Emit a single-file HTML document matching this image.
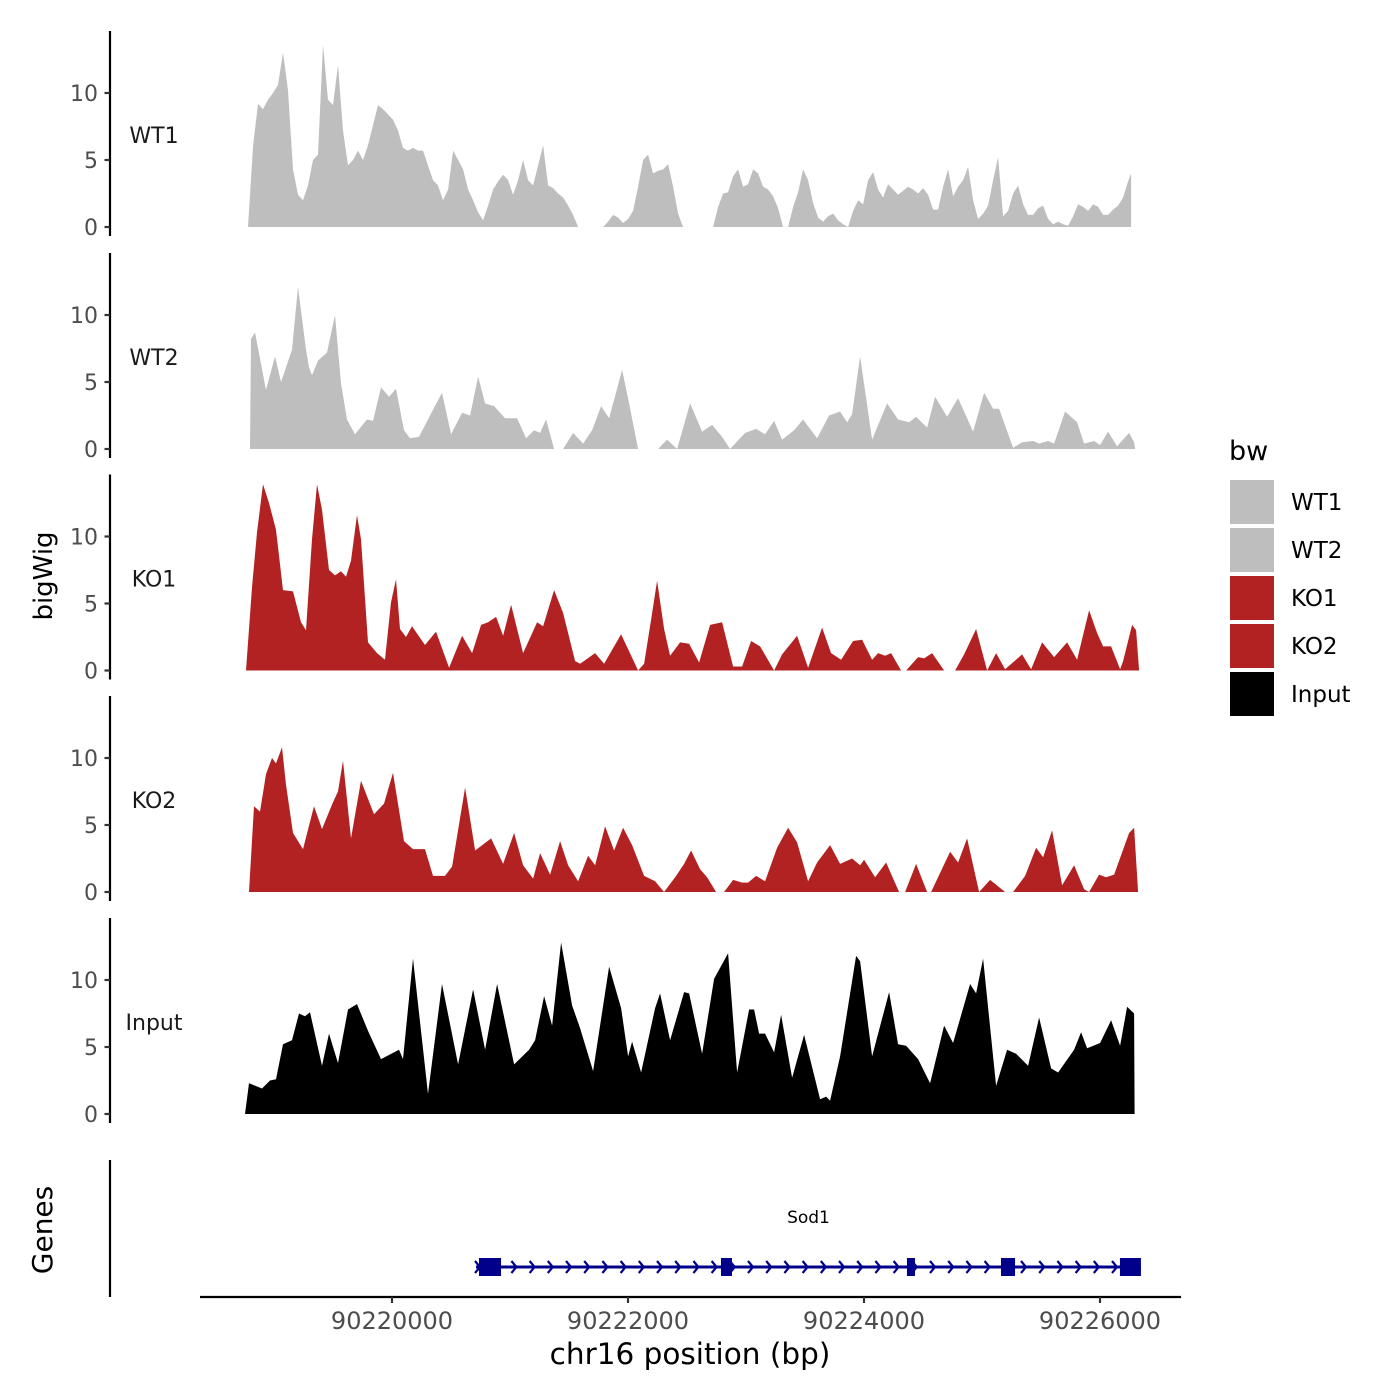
<!DOCTYPE html>
<html><head><meta charset="utf-8"><style>
html,body{margin:0;padding:0;background:#fff;}
svg{display:block;font-family:"DejaVu Sans","Liberation Sans",sans-serif;}
</style></head><body>
<svg id="chart" width="1400" height="1400" viewBox="0 0 1400 1400" xmlns="http://www.w3.org/2000/svg">
<rect x="0" y="0" width="1400" height="1400" fill="#fff"/>
<g id="tracks"></g>
<g id="genes"></g>
<g id="legend"></g>
<text x="0" y="0" transform="translate(52,576) rotate(-90)" text-anchor="middle" font-size="26" fill="#000">bigWig</text>
<text x="0" y="0" transform="translate(52,1230) rotate(-90)" text-anchor="middle" font-size="28" fill="#000">Genes</text>
<text x="690" y="1364" text-anchor="middle" font-size="29.5" fill="#000">chr16 position (bp)</text>
</svg>
<script>
// ---- data ----
const binStartBp = 90218780;
const binSizeBp = 8.475;
const trackNames = ["WT1","WT2","KO1","KO2","Input"];
const trackColors = ["#bebebe","#bebebe","#b22222","#b22222","#000000"];
const yTicks = [0,5,10];
const xTicks = [90220000,90222000,90224000,90226000];

const posWT1 = [0,5,10,15,20,25,30,35,40,45,50,55,60,65,70,75,80,85,90,95,100,105,110,115,120,125,130,135,140,145,150,155,160,165,170,175,180,185,190,195,200,205,210,215,220,225,230,235,240,245,250,255,260,265,270,275,280,285,290,295,300,305,310,315,320,325,330,
340,
355,360,365,370,375,380,385,390,395,400,405,410,415,420,425,430,435,
450,
465,470,475,480,485,490,495,500,505,510,515,520,525,530,535,
540,545,550,555,560,565,570,575,580,585,590,595,600,
605,610,615,620,625,630,635,640,645,650,655,660,665,670,675,680,685,690,695,700,705,710,715,720,725,730,735,740,745,750,755,760,765,770,775,780,785,790,795,800,805,810,815,820,825,830,835,840,845,850,855,860,865,870,875,880,883];
const valWT1 = [0,6,9.2,8.8,9.5,10,10.6,13,10.2,4.3,2.4,2,3.1,5,5.4,13.6,9.5,9.1,12.1,7.2,4.6,5,5.7,5,6.1,7.6,9.1,8.8,8.4,8,7.2,5.9,5.7,5.9,5.7,5.7,4.6,3.5,3.1,2,2.8,5.7,5,4.3,2.8,2,1.1,0.5,1.6,2.8,3.4,3.9,3.5,2.4,3.5,5,3.5,3.1,4.6,6.1,3.1,2.9,2.5,2.2,1.6,0.9,0,
null,
0,0.4,0.9,0.7,0.3,0.6,1.2,3,5,5.4,4,4.2,4.3,4.7,3,1,0,
null,
0,1.5,2.5,2.6,3.8,4.3,3,3.2,4.3,4,3,2.8,2.3,1.4,0,
0,1.5,2.6,4.3,3.5,1.8,0.7,0.4,0.8,1,0.5,0.2,0,
1.2,2,1.7,3.5,4.1,2.8,2.2,3.2,2.8,2.4,2.7,3,2.8,2.5,2.9,2.4,1.3,1.3,3,4.3,2.3,3.0,3.5,4.5,2,0.6,1.0,1.6,3.5,5.2,0.8,1.2,2.5,3.1,1.7,0.9,0.9,1.4,1.6,0.6,0.2,0.4,0.2,0.1,0.8,1.7,1.5,1.2,1.7,1.5,0.9,0.9,1.3,1.6,2.2,3.4,4];

const posWT2 = [2,3,7,18,27,33,44,50,58,61,64,70,79,87,93,99,107,119,125,133,141,148,156,162,171,182,194,203,214,222,230,237,246,257,269,278,286,292,298,306,
306.5,
315,325,335,344,353,361,374,381,390,
395,
410,419,429,442,454,464,474,482,497,508,517,526,534,546,555,569,581,592,599,604,612,624,639,650,661,668,679,687,699,710,725,736,745,751,765,774,785,791,800,806,817,829,836,846,852,860,869,881,886,887];
const valWT2 = [0,8.2,8.7,4.4,6.9,5,7.4,12.1,7.4,6.1,5.5,6.6,7.2,10,4.9,2.2,1.1,2.2,2.1,4.6,3.9,4.5,1.4,0.8,0.9,2.5,4.2,1.1,2.7,2.5,5.4,3.4,3.2,2.3,2.3,0.8,1.4,1.2,2.2,0,
null,
0,1.2,0.4,1.4,3.2,2.3,5.9,3.4,0,
null,
0,0.7,0,3.4,1.3,1.8,0.9,0,1.2,1.5,1.1,2.1,0.7,1.4,2.2,0.8,2.5,2.8,2.0,2.6,6.9,0.7,3.4,2.2,2,2.4,1.6,3.9,2.4,3.8,1.3,4.2,3.0,3.0,0.1,0.5,0.6,0.4,0.6,0.4,2.8,2.0,0.4,0.6,0.3,1.3,0.2,1.2,0.5,0];

const posKO1 = [-2,4,9,15,21,28,35,45,53,58,64,69,74,81,87,93,98,103,109,113,120,129,137,143,148,152,158,164,177,188,201,214,224,233,240,248,255,263,275,289,295,306,315,327,332,347,356,373,390,396,403,409,416,422,432,441,451,462,474,485,494,503,512,526,534,549,560,574,583,593,605,614,624,630,637,643,653,658,670,676,684,696,
700,
707,716,728,739,748,757,774,783,794,806,819,829,841,849,855,863,872,875,884,888,891];
const valKO1 = [0,6.2,10.3,13.9,12.5,10.5,6,5.9,3.6,3,9.8,13.9,12,7.5,7.1,7.4,7.0,8.2,11.6,9.8,2.1,1.3,0.8,5.1,6.8,3.1,2.5,3.3,1.9,2.9,0.2,2.6,1.3,3.4,3.6,4,2.6,4.9,1.3,3.6,3.3,6,4.3,0.7,0.5,1.3,0.5,2.7,0,0.5,3.8,6.7,3.1,1.1,2.1,2,0.6,3.4,3.6,0.3,0.3,2.2,1.8,0,1.2,2.6,0.2,3.2,1.3,0.8,2.2,2.3,0.8,1.3,1.1,1.3,0,0,1,0.9,1.3,0,
null,
0,1.2,3.1,0,1.3,0.1,1.2,0.1,2.1,1,2.1,0.8,4.5,2.8,1.8,1.8,0.1,0.7,3.4,3.0,0];

const posKO2 = [1,6,12,18,24,28,34,38,45,55,66,74,85,90,95,103,113,126,136,145,156,165,177,185,197,204,217,227,243,255,266,275,285,292,302,312,320,330,340,347,357,366,375,384,396,407,416,428,436,443,452,459,468,476,485,494,500,508,517,529,540,549,560,569,582,592,604,612,616,627,638,651,657,668,679,683,702,710,719,731,742,757,765,777,788,795,804,814,826,836,841,851,858,866,881,886,890];
const valKO2 = [0,6.4,6.0,8.8,10,9.6,10.8,8,4.4,3.2,6.4,4.7,6.7,7.5,9.8,4,8.3,5.8,6.6,8.9,3.8,3.2,3.2,1.2,1.2,1.9,7.8,3.1,4,2.1,4.4,2,1,2.9,1.3,3.8,2,0.8,2.7,2.0,4.9,3.1,4.8,3.5,1.2,0.8,0,1.2,2.1,3.1,1.7,1.1,0,0,0.9,0.7,0.7,1.2,0.8,3.3,4.8,3.7,0.8,2.2,3.5,2.1,2.5,2.0,2.4,1.1,2.2,0,0,2.1,0,0,3.0,2.2,4.0,0,0.9,0,0,1.2,3.3,2.6,4.6,0.5,2.0,0.2,0,1.3,1.1,1.3,4.4,4.8,0];

const posInput = [-3,1,14,22,28,35,44,51,57,62,74,81,90,100,109,120,133,151,155,165,180,194,210,225,237,249,266,281,287,296,304,313,324,332,345,361,373,380,384,393,407,412,422,436,441,454,466,480,489,501,506,511,517,526,533,544,556,572,578,582,592,608,612,624,641,650,658,670,682,696,705,722,728,735,748,759,768,780,791,803,810,826,833,839,852,863,872,879,886,886.5];
const valInput = [0,2.3,1.9,2.5,2.6,5.2,5.5,7.5,7.3,7.6,3.6,6,3.8,7.8,8.2,6.2,4.1,4.8,4.1,11.6,1.5,9.7,3.7,9.3,4.8,9.7,3.7,4.8,5.5,8.8,6.6,12.8,8.1,6.4,3.2,11,7.9,4.3,5.4,3.1,7.9,9,5.5,9.1,9.0,4.5,10.1,12,3.1,7.8,7.8,6,6,4.6,7.4,2.7,5.9,1.1,1.3,1.0,4.3,11.8,11.4,4.3,9.1,5.2,5.1,4.1,2.3,6.6,5.3,9.7,9.0,11.6,2.1,4.8,4.5,3.6,7.2,3.4,3.1,4.8,6.1,4.9,5.3,7.0,5.1,8.0,7.5,0];

const geneStartBp = 90220712;
const geneEndBp = 90226347;
const exonStartBp = [90220737,90222788,90224364,90225161,90226169];
const exonEndBp = [90220924,90222881,90224432,90225280,90226347];
const geneLabel = "Sod1";
const legendLabels = ["WT1","WT2","KO1","KO2","Input"];
const legendColors = ["#bebebe","#bebebe","#b22222","#b22222","#000000"];

// ---- scales ----
const NS = "http://www.w3.org/2000/svg";
const xOfBp = bp => 392 + (bp - 90220000) * (236 / 2000);
const xOfBin = b => xOfBp(binStartBp + b * binSizeBp);
const trackBase = [227, 449, 670.5, 892, 1114];
const pxPerUnit = 13.4;
function mk(tag, attrs, parent){const e=document.createElementNS(NS,tag);for(const k in attrs)e.setAttribute(k,attrs[k]);parent.appendChild(e);return e;}

const tracksG = document.getElementById('tracks');
const allPos = [posWT1,posWT2,posKO1,posKO2,posInput];
const allVal = [valWT1,valWT2,valKO1,valKO2,valInput];
trackNames.forEach((name, t) => {
  const y0 = trackBase[t];
  const yOf = v => y0 - v * pxPerUnit;
  const g = mk('g', {}, tracksG);
  
  
  const P = allPos[t], V = allVal[t];
  let seg = [];
  const flush = () => {
    if (seg.length > 1) {
      let d = 'M' + xOfBin(seg[0][0]).toFixed(1) + ',' + y0;
      seg.forEach(p => { d += 'L' + xOfBin(p[0]).toFixed(1) + ',' + yOf(p[1]).toFixed(1); });
      d += 'L' + xOfBin(seg[seg.length-1][0]).toFixed(1) + ',' + y0 + 'Z';
      const a = mk('path', {d: d, fill: trackColors[t]}, g);
      
      
    }
    seg = [];
  };
  for (let i = 0; i < Math.min(P.length, V.length); i++) {
    if (V[i] === null) flush(); else seg.push([P[i], V[i]]);
  }
  flush();
  const ax = mk('line', {x1:110, x2:110, y1:y0-196, y2:y0+9, stroke:'#000', 'stroke-width':2.2}, g);
  
  
  yTicks.forEach(v => {
    const tk = mk('line', {x1:104.5, x2:110, y1:yOf(v), y2:yOf(v), stroke:'#333', 'stroke-width':2.2}, g);
    
    
    const lb = mk('text', {x:98, y:yOf(v)+8, 'text-anchor':'end', 'font-size':22, fill:'#4d4d4d'}, g);
    lb.textContent = v;
    
    
  });
  const tl = mk('text', {x:154, y:y0-84, 'text-anchor':'middle', 'font-size':22, fill:'#1a1a1a'}, g);
  tl.textContent = name;
  
  
});

// ---- gene track ----
const gg = document.getElementById('genes');
const ga = mk('line', {x1:110, x2:110, y1:1160, y2:1297, stroke:'#000', 'stroke-width':2.2}, gg);


const xa = mk('line', {x1:200, x2:1181, y1:1297, y2:1297, stroke:'#000', 'stroke-width':2.2}, gg);


xTicks.forEach(v => {
  const tk = mk('line', {x1:xOfBp(v), x2:xOfBp(v), y1:1297, y2:1303, stroke:'#333', 'stroke-width':2.2}, gg);
  
  
  const lb = mk('text', {x:xOfBp(v), y:1329, 'text-anchor':'middle', 'font-size':24, fill:'#4d4d4d'}, gg);
  lb.textContent = v;
  
  
});
const gx1 = xOfBp(geneStartBp), gx2 = xOfBp(geneEndBp);
const gl = mk('line', {x1:gx1, x2:gx2, y1:1267, y2:1267, stroke:'#00008b', 'stroke-width':3}, gg);


let chev = '';
for (let x = gx1 + 2; x < gx2 - 4; x += 18.2) chev += 'M' + (x-3).toFixed(1) + ',1261L' + (x+2).toFixed(1) + ',1267L' + (x-3).toFixed(1) + ',1273';
const ch = mk('path', {d: chev, stroke:'#00008b', 'stroke-width':2.2, fill:'none'}, gg);


exonStartBp.forEach((s, i) => {
  const x1 = xOfBp(s), x2 = xOfBp(exonEndBp[i]);
  const r = mk('rect', {x:x1, y:1258, width:Math.max(x2-x1,3), height:18, fill:'#00008b'}, gg);
  
  
});
const gt = mk('text', {x:(gx1+gx2)/2, y:1223, 'text-anchor':'middle', 'font-size':17, fill:'#000'}, gg);
gt.textContent = geneLabel;



// ---- legend ----
const lg = document.getElementById('legend');
const lt = mk('text', {x:1229, y:460, 'font-size':27, fill:'#000'}, lg);
lt.textContent = 'bw';


legendLabels.forEach((lab, i) => {
  const y = 480 + i * 48;
  const k = mk('rect', {x:1230, y:y, width:44, height:44, fill:legendColors[i]}, lg);
  
  
  const tx = mk('text', {x:1291, y:y+30, 'font-size':23, fill:'#000'}, lg);
  tx.textContent = lab;
  
  
});
</script>
</body></html>
